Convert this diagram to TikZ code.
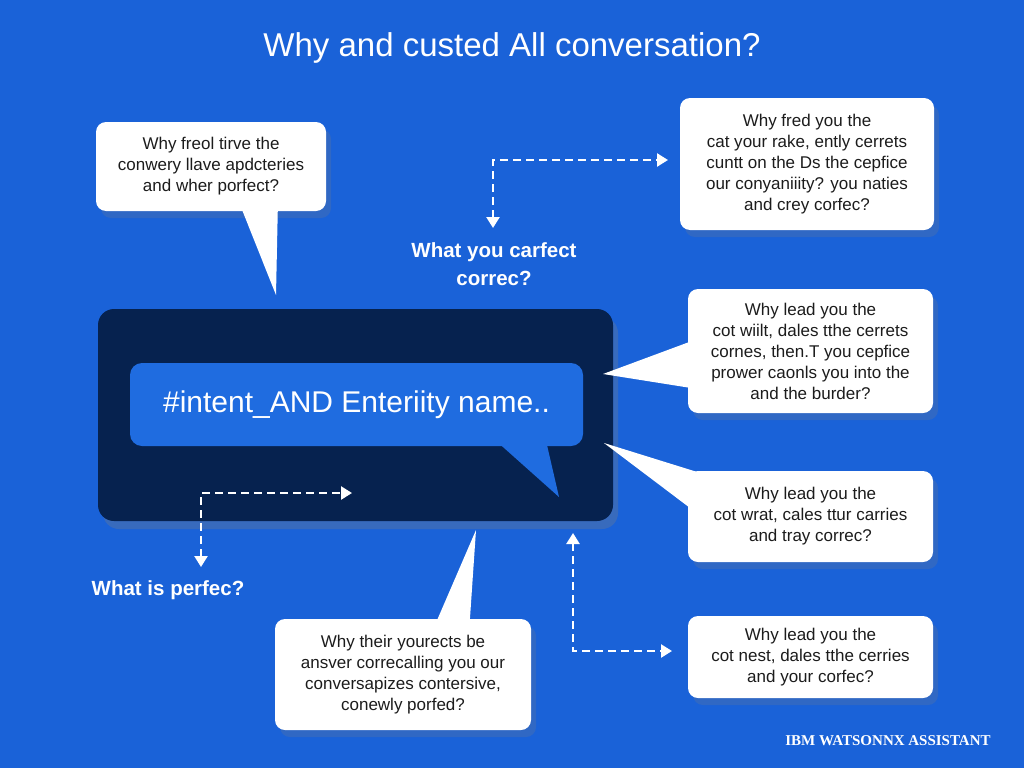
\documentclass[tikz,border=0pt]{standalone}
\usepackage{xcolor}
\usepackage{fontspec}
\setmainfont{Liberation Sans}
\newfontfamily\fuentepie{Liberation Serif}
\usepackage{tikz}
\usetikzlibrary{arrows.meta, positioning, shadows, calc}
\definecolor{azulfondo}{HTML}{1A62D8}
\definecolor{azulnoche}{HTML}{06224F}
\definecolor{azulglobo}{HTML}{1F6CE0}
\definecolor{textonegro}{HTML}{1C1C1C}

\begin{document}
\begin{tikzpicture}[
    x=1pt, y=-1pt,
    globo/.style={rectangle, fill=white, rounded corners=10pt, align=center, inner sep=0pt, text=textonegro, font=\fontsize{17}{21}\selectfont, drop shadow={opacity=0.22, shadow xshift=5pt, shadow yshift=-7pt}},
    flecha/.style={{Triangle[width=13pt,length=11pt]}-{Triangle[width=13pt,length=11pt]}, white, line width=2.4pt, dash pattern=on 8pt off 5pt},
    etiqueta/.style={text=white, align=center, font=\bfseries\fontsize{20.5}{28}\selectfont}
]

% fondo
\fill[azulfondo] (0,0) rectangle (1024,768);

\node (titulo) [text=white, font=\fontsize{33}{38}\selectfont] at (512,48) {Why and custed All conversation?};

% panel central
\node (panel) [rectangle, fill=azulnoche, rounded corners=16pt, minimum width=515pt, minimum height=212pt, drop shadow={opacity=0.3, shadow xshift=5pt, shadow yshift=-8pt}] at (355.5,415) {};
\node (intento) [rectangle, fill=azulglobo, rounded corners=12pt, minimum width=453pt, minimum height=83pt, text=white, font=\fontsize{30}{36}\selectfont] at (356.5,404.5) {\#intent\_AND Enteriity name..};

% globos
\node (globo1) [globo, minimum width=230pt, minimum height=89pt] at (211,166.5) {Why freol tirve the\\conwery llave apdcteries\\and wher porfect?};
\node (globo2) [globo, minimum width=254pt, minimum height=132pt] at (807,164) {Why fred you the\\cat your rake, ently cerrets\\cuntt on the Ds the cepfice\\our conyaniiity? you naties\\and crey corfec?};
\node (globo3) [globo, minimum width=245pt, minimum height=124pt] at (810.5,351) {Why lead you the\\cot wiilt, dales tthe cerrets\\cornes, then.T you cepfice\\prower caonls you into the\\and the burder?};
\node (globo4) [globo, minimum width=245pt, minimum height=91pt] at (810.5,516.5) {Why lead you the\\cot wrat, cales ttur carries\\and tray correc?};
\node (globo5) [globo, minimum width=245pt, minimum height=82pt] at (810.5,657) {Why lead you the\\cot nest, dales tthe cerries\\and your corfec?};
\node (globo6) [globo, minimum width=256pt, minimum height=111pt] at (403,674.5) {Why their yourects be\\ansver correcalling you our\\conversapizes contersive,\\conewly porfed?};

% colas de los globos
\coordinate (punta1) at (276,295);
\coordinate (punta2) at (559,497);
\coordinate (punta3) at (603,374);
\coordinate (punta4) at (604,443);
\coordinate (punta6) at (476,530);
\fill[white] ($(globo1.south west)+(146,-2)$) -- ($(globo1.south west)+(182,-2)$) -- (punta1) -- cycle;
\fill[azulglobo] ($(intento.south west)+(370,-2)$) -- ($(intento.south west)+(417,-2)$) -- (punta2) -- cycle;
\fill[white] ($(globo3.north west)+(2,53)$) -- ($(globo3.north west)+(2,99)$) -- (punta3) -- cycle;
\fill[white] ($(globo4.north west)+(12,2)$) -- ($(globo4.north west)+(2,37)$) -- (punta4) -- cycle;
\fill[white] ($(globo6.north west)+(162,2)$) -- ($(globo6.north west)+(195,2)$) -- (punta6) -- cycle;

% etiquetas
\node (etiqueta1) [etiqueta] at (494,264) {What you carfect\\correc?};
\node (etiqueta2) [etiqueta] at (168,590) {What is perfec?};

% flechas punteadas
\coordinate (ini1) at (493,228);
\coordinate (fin1) at (668,160);
\coordinate (ini2) at (201,567);
\coordinate (fin2) at (352,493);
\coordinate (ini3) at (573,533);
\coordinate (fin3) at (672,651);
\draw [flecha] (ini1) |- (fin1);
\draw [flecha] (ini2) |- (fin2);
\draw [flecha] (ini3) |- (fin3);

\node (pie) [text=white, font=\fuentepie\bfseries\fontsize{15}{18}\selectfont] at (888,741) {IBM WATSONNX ASSISTANT};

\end{tikzpicture}
\end{document}
